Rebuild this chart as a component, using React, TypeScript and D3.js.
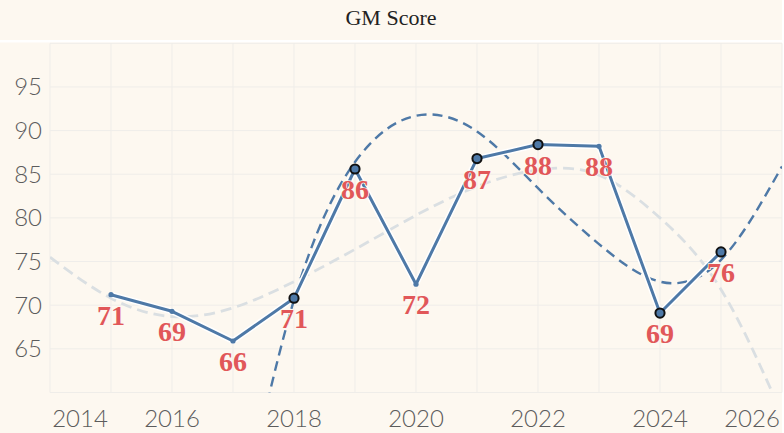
import { useMemo } from 'react';
import * as d3 from 'd3';

// GM score by year
const years = [2015, 2016, 2017, 2018, 2019, 2020, 2021, 2022, 2023, 2024, 2025];
const scores = [71.2, 69.3, 65.9, 70.8, 85.6, 72.4, 86.8, 88.4, 88.2, 69.1, 76.1];
const highlighted = [false, false, false, true, true, false, true, true, false, true, true];

// trend curves
const fitYears = [2017, 2018, 2019, 2020, 2021, 2022, 2023, 2024, 2025, 2026];
const fitValues = [41.0, 70.6, 86.4, 91.7, 89.9, 83.4, 77.0, 72.7, 75.2, 85.9];
const longYears = [2014, 2015, 2016, 2017, 2018, 2019, 2020, 2021, 2022, 2023, 2024, 2025, 2026];
const longValues = [75.5, 70.8, 68.7, 69.7, 72.7, 76.4, 80.3, 83.6, 85.5, 84.9, 80.0, 71.8, 57.5];

const xTicks = [2014, 2016, 2018, 2020, 2022, 2024, 2026];
const yTicks = [65, 70, 75, 80, 85, 90, 95];
const yGrid = [60, 65, 70, 75, 80, 85, 90, 95, 100];

const W = 784;
const H = 433;
const plot = { left: 50, right: 782, top: 43.3, bottom: 392.5 };
const bg = '#fdf8f0';
const blue = '#4e79a7';
const red = '#e15759';
const gridColor = '#efede9';
const axisText = '#5c5c5c';

export default function App() {
  const x = useMemo(() => d3.scaleLinear().domain([2014, 2026]).range([plot.left, plot.right]), []);
  const y = useMemo(() => d3.scaleLinear().domain([60, 100]).range([plot.bottom, plot.top]), []);

  const mainLine = d3
    .line<number>()
    .x((_, i) => x(years[i]))
    .y((d) => y(d))(scores)!;

  const fitLine = d3
    .line<number>()
    .x((_, i) => x(fitYears[i]))
    .y((d) => y(d))
    .curve(d3.curveNatural)(fitValues)!;

  const longLine = d3
    .line<number>()
    .x((_, i) => x(longYears[i]))
    .y((d) => y(d))
    .curve(d3.curveNatural)(longValues)!;

  const yearGrid = d3.range(2014, 2027);

  return (
    <svg
      width={W}
      height={H}
      style={{ position: 'absolute', left: 0, top: 0, background: '#ffffff' }}
    >
      <defs>
        <clipPath id="plotClip">
          <rect
            x={plot.left}
            y={plot.top}
            width={plot.right - plot.left}
            height={plot.bottom - plot.top}
          />
        </clipPath>
      </defs>

      {/* title band */}
      <rect x={0} y={0} width={782} height={40} fill={bg} />
      <text
        x={391}
        y={25}
        textAnchor="middle"
        fontFamily="'Liberation Serif', 'Times New Roman', serif"
        fontSize={22}
        fill="#222"
      >
        GM Score
      </text>

      {/* body */}
      <rect x={0} y={42.5} width={782} height={H - 42.5} fill={bg} />

      {/* grid */}
      {yGrid.map((v) => (
        <line
          key={'h' + v}
          x1={plot.left}
          x2={plot.right}
          y1={y(v)}
          y2={y(v)}
          stroke={gridColor}
          strokeWidth={1}
        />
      ))}
      {yearGrid.map((yr) => (
        <line
          key={'v' + yr}
          x1={x(yr)}
          x2={x(yr)}
          y1={plot.top}
          y2={plot.bottom}
          stroke={gridColor}
          strokeWidth={1}
        />
      ))}

      {/* y axis labels */}
      {yTicks.map((v) => (
        <text
          key={'yt' + v}
          x={42}
          y={y(v) + 8.5}
          textAnchor="end"
          fontFamily="Lato, 'Noto Sans', sans-serif"
          fontWeight={300}
          fontSize={24}
          fill={axisText}
        >
          {v}
        </text>
      ))}

      {/* x axis labels, kept inside the plot width */}
      {xTicks.map((yr) => {
        const half = 28;
        const cx = Math.min(Math.max(x(yr), plot.left + 2 + half), plot.right - 2 - half);
        return (
          <text
            key={'xt' + yr}
            x={cx}
            y={426.5}
            textAnchor="middle"
            fontFamily="Lato, 'Noto Sans', sans-serif"
            fontWeight={300}
            fontSize={24}
            fill={axisText}
          >
            {yr}
          </text>
        );
      })}

      <g clipPath="url(#plotClip)">
        {/* long trend */}
        <path
          d={longLine}
          fill="none"
          stroke="#dadfe2"
          strokeWidth={2.8}
          strokeDasharray="11 6"
        />
        {/* short trend */}
        <path
          d={fitLine}
          fill="none"
          stroke={blue}
          strokeWidth={2.4}
          strokeDasharray="10 6"
        />
      </g>

      {/* main series */}
      <path d={mainLine} fill="none" stroke="#ffffff" strokeWidth={6} strokeLinejoin="round" />
      <path d={mainLine} fill="none" stroke={blue} strokeWidth={3} strokeLinejoin="round" />

      {scores.map((v, i) =>
        highlighted[i] ? (
          <circle
            key={'p' + i}
            cx={x(years[i])}
            cy={y(v)}
            r={4.6}
            fill={blue}
            stroke="#111"
            strokeWidth={2}
          />
        ) : (
          <circle key={'p' + i} cx={x(years[i])} cy={y(v)} r={2.6} fill={blue} />
        )
      )}

      {/* value labels */}
      {scores.map((v, i) => (
        <text
          key={'l' + i}
          x={x(years[i])}
          y={y(v) + 30}
          textAnchor="middle"
          fontFamily="'Liberation Serif', 'Times New Roman', serif"
          fontWeight="bold"
          fontSize={28}
          fill={red}
          stroke={bg}
          strokeWidth={1.5}
          paintOrder="stroke"
        >
          {Math.round(v)}
        </text>
      ))}
    </svg>
  );
}
